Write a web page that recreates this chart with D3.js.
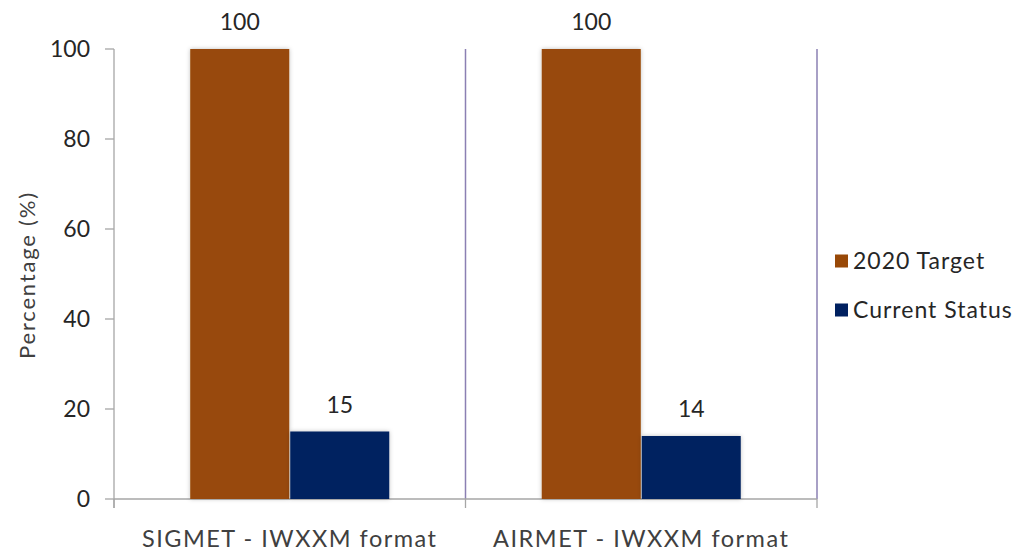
<!DOCTYPE html>
<html><head><meta charset="utf-8">
<script src="https://cdn.jsdelivr.net/npm/d3@7"></script>
<style>body{margin:0;background:#fff;} text{font-family:Lato,"Open Sans",sans-serif;}</style>
</head><body><svg id="c" width="1016" height="553"></svg>
<script>
const categories = ["SIGMET - IWXXM format", "AIRMET - IWXXM format"];
const seriesNames = ["2020 Target", "Current Status"];
const targetValues = [100, 100];
const currentValues = [15, 14];
const yTicks = [0, 20, 40, 60, 80, 100];
const colors = ["#984807", "#002060"];

const svg = d3.select("#c");
const defs = svg.append("defs");
const f = defs.append("filter").attr("id","sh").attr("x","-10%").attr("y","-10%").attr("width","120%").attr("height","120%");
f.append("feDropShadow").attr("dx",0).attr("dy",0).attr("stdDeviation",2).attr("flood-color","#000").attr("flood-opacity",0.25);

const m = {l:114, r:817, t:49, b:499};
const x = d3.scaleBand().domain(categories).range([m.l, m.r]).paddingInner(0).paddingOuter(0);
const x1 = d3.scaleBand().domain(seriesNames).range([0, 199]).paddingInner(0.01);
const y = d3.scaleLinear().domain([0,100]).range([m.b, m.t]);

// vertical separators
categories.forEach(c=>{
  const xx = x(c)+x.bandwidth();
  svg.append("line").attr("x1",xx).attr("x2",xx).attr("y1",m.t).attr("y2",m.b).attr("stroke","#8b80b3").attr("stroke-width",1.5);
});

// x axis
const xa = svg.append("g").attr("transform",`translate(0,${m.b})`);
xa.append("line").attr("x1",m.l).attr("x2",m.r).attr("stroke","#a6a6a6").attr("stroke-width",1.3);
[m.l, ...categories.map(c=>x(c)+x.bandwidth())].forEach(xx=>{
  xa.append("line").attr("x1",xx).attr("x2",xx).attr("y1",0).attr("y2",9).attr("stroke","#a6a6a6").attr("stroke-width",1.3);
});
categories.forEach(c=>{
  xa.append("text").attr("x",x(c)+x.bandwidth()/2).attr("y",48).attr("text-anchor","middle")
    .attr("font-size",23.5).attr("letter-spacing",1.5).attr("fill","#404040").text(c);
});

// y axis
const ya = svg.append("g").attr("transform",`translate(${m.l},0)`);
ya.append("line").attr("y1",m.t).attr("y2",m.b+9).attr("stroke","#a6a6a6").attr("stroke-width",1.3);
yTicks.forEach(t=>{
  ya.append("line").attr("x1",-9).attr("x2",0).attr("y1",y(t)).attr("y2",y(t)).attr("stroke","#a6a6a6").attr("stroke-width",1.3);
  ya.append("text").attr("x",-24).attr("y",y(t)).attr("dy","0.36em").attr("text-anchor","end")
    .attr("font-size",23).attr("fill","#262626").text(t);
});
svg.append("text").attr("transform","translate(35,275) rotate(-90)").attr("text-anchor","middle")
  .attr("font-size",22).attr("letter-spacing",1.8).attr("fill","#404040").text("Percentage (%)");

// bars
const data = [targetValues, currentValues];
categories.forEach((c,ci)=>{
  const g = svg.append("g").attr("transform",`translate(${x(c)+x.bandwidth()/2-99.5},0)`);
  seriesNames.forEach((s,si)=>{
    const v = data[si][ci];
    g.append("rect").attr("x",x1(s)).attr("y",y(v)).attr("width",x1.bandwidth()).attr("height",m.b-y(v))
      .attr("fill",colors[si]).attr("filter","url(#sh)");
    g.append("text").attr("x",x1(s)+x1.bandwidth()/2).attr("y",y(v)-19).attr("text-anchor","middle")
      .attr("font-size",23).attr("fill","#262626").text(v);
  });
});

// legend
seriesNames.forEach((s,i)=>{
  const ly = 261 + i*49;
  svg.append("rect").attr("x",835).attr("y",ly-6.5).attr("width",13).attr("height",13).attr("fill",colors[i]);
  svg.append("text").attr("x",853).attr("y",ly).attr("dy","0.36em").attr("font-size",23).attr("letter-spacing",1.0).attr("fill","#262626").text(s);
});
</script></body></html>
